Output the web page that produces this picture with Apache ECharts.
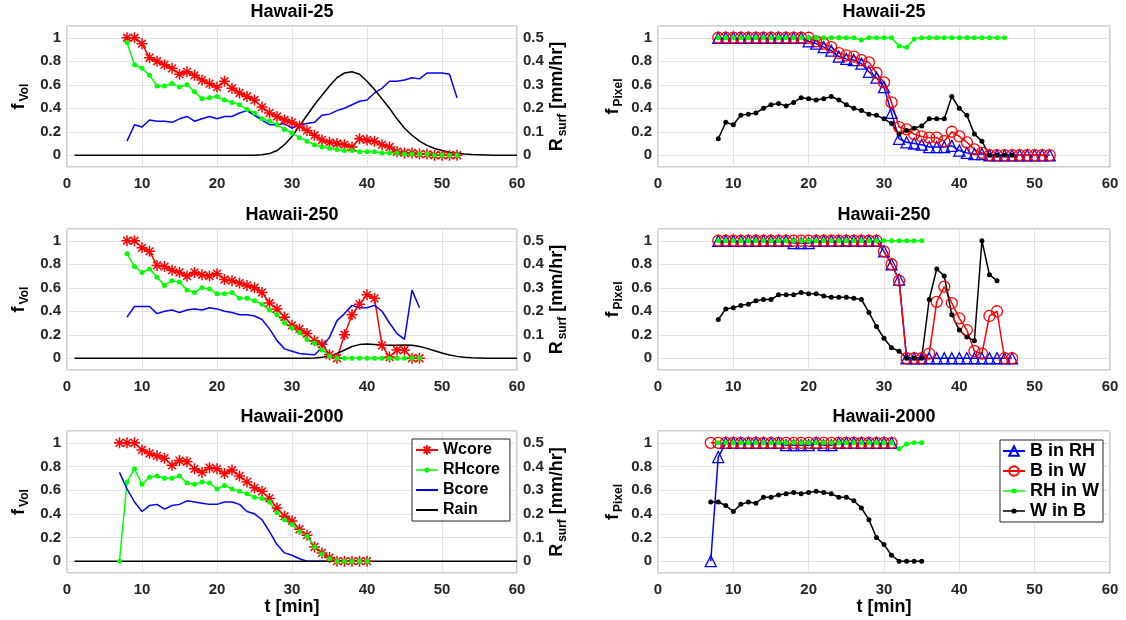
<!DOCTYPE html>
<html>
<head>
<meta charset="utf-8">
<script src="https://cdn.jsdelivr.net/npm/echarts@6/dist/echarts.min.js"></script>
<style>
  html, body { margin: 0; padding: 0; background: #ffffff; }
  #chart { width: 1126px; height: 620px; }
</style>
</head>
<body>
<div id="chart"></div>
<script>
// ---------- time axes (minutes) ----------
const rainT = [1,2,3,4,5,6,7,8,9,10,11,12,13,14,15,16,17,18,19,20,21,22,23,24,25,26,27,28,29,30,
               31,32,33,34,35,36,37,38,39,40,41,42,43,44,45,46,47,48,49,50,51,52,53,54,55,56,57,58,59,60];

// ---------- Hawaii-25 ----------
const h25T = [8,9,10,11,12,13,14,15,16,17,18,19,20,21,22,23,24,25,26,27,28,29,30,
              31,32,33,34,35,36,37,38,39,40,41,42,43,44,45,46,47,48,49,50,51,52];
const h25Wcore  = [1.00,1.00,0.95,0.83,0.80,0.77,0.74,0.69,0.71,0.68,0.64,0.61,0.58,0.63,0.57,0.53,0.50,0.47,0.41,0.36,0.33,0.30,0.28,
                   0.25,0.21,0.17,0.13,0.11,0.10,0.09,0.07,0.14,0.13,0.12,0.09,0.07,0.03,0.02,0.02,0.01,0.01,0.00,0.00,0.00,0.00];
const h25RHcore = [0.96,0.77,0.74,0.68,0.59,0.59,0.61,0.58,0.60,0.54,0.48,0.49,0.50,0.47,0.45,0.43,0.39,0.36,0.31,0.29,0.26,0.22,0.19,
                   0.15,0.12,0.09,0.07,0.06,0.05,0.04,0.04,0.03,0.03,0.03,0.02,0.02,0.02,0.01,0.01,0.01,0.01,0.00,0.00,0.00,0.00];
const h25Bcore  = [0.12,0.26,0.24,0.30,0.29,0.29,0.28,0.31,0.33,0.29,0.31,0.33,0.31,0.33,0.33,0.36,0.38,0.34,0.30,0.26,0.26,0.27,0.23,
                   0.26,0.27,0.28,0.34,0.35,0.38,0.40,0.43,0.46,0.47,0.53,0.57,0.63,0.63,0.64,0.66,0.65,0.70,0.70,0.70,0.69,0.49];
const h25Rain   = [0,0,0,0,0,0,0,0,0,0,0,0,0,0,0,0,0,0,0,0,0,0,0,0,0,
                   0.002,0.007,0.020,0.045,0.080,0.125,0.170,0.215,0.255,0.295,0.330,0.350,0.355,0.345,0.315,
                   0.280,0.240,0.200,0.155,0.115,0.085,0.060,0.042,0.029,0.020,0.013,0.008,0.005,0.003,0.002,
                   0.001,0,0,0,0];
const h25BinRH  = [1,1,1,1,1,1,1,1,1,1,1,1,0.97,0.95,0.92,0.89,0.84,0.82,0.81,0.78,0.71,0.66,0.58,
                   0.36,0.14,0.11,0.10,0.09,0.07,0.07,0.07,0.08,0.04,0.02,0.01,0.01,0,0,0,0,0,0,0,0,0];
const h25BinW   = [1,1,1,1,1,1,1,1,1,1,1,1,1,0.97,0.95,0.92,0.87,0.85,0.84,0.81,0.79,0.70,0.62,
                   0.45,0.24,0.22,0.18,0.16,0.15,0.15,0.12,0.20,0.16,0.11,0.05,0.02,0,0,0,0,0,0,0,0,0];
const h25RHinWT = [8,9,10,11,12,13,14,15,16,17,18,19,20,21,22,23,24,25,26,27,28,29,30,
                   31,32,33,34,35,36,37,38,39,40,41,42,43,44,45,46];
const h25RHinW  = [1,1,1,1,1,1,1,1,1,1,1,1,1,1,1,1,1,1,1,0.98,1,1,1,
                   1,0.93,0.92,0.99,1,1,1,1,1,1,1,1,1,1,1,1];
const h25WinBT  = [8,9,10,11,12,13,14,15,16,17,18,19,20,21,22,23,24,25,26,27,28,29,30,
                   31,32,33,34,35,36,37,38,39,40,41,42,43,44,45,46,47];
const h25WinB   = [0.14,0.28,0.26,0.34,0.35,0.36,0.40,0.43,0.44,0.42,0.45,0.49,0.48,0.47,0.48,0.50,0.47,0.43,0.40,0.38,0.35,0.34,0.31,
                   0.27,0.18,0.21,0.23,0.25,0.31,0.31,0.31,0.50,0.40,0.34,0.18,0.12,0,0,0,0];

// ---------- Hawaii-250 ----------
const h250T = [8,9,10,11,12,13,14,15,16,17,18,19,20,21,22,23,24,25,26,27,28,29,30,
               31,32,33,34,35,36,37,38,39,40,41,42,43,44,45,46,47];
const h250Wcore  = [1.00,1.00,0.94,0.91,0.79,0.78,0.75,0.73,0.70,0.73,0.71,0.70,0.72,0.67,0.66,0.64,0.62,0.60,0.56,0.47,0.42,0.35,0.28,
                    0.25,0.21,0.15,0.12,0.03,0.00,0.20,0.37,0.46,0.54,0.51,0.11,0.01,0.07,0.07,0.00,0.00];
const h250RHcore = [0.89,0.78,0.73,0.76,0.69,0.62,0.66,0.65,0.58,0.56,0.60,0.59,0.55,0.55,0.56,0.51,0.51,0.49,0.46,0.41,0.37,0.30,0.26,
                    0.22,0.16,0.13,0.07,0.02,0,0,0,0,0,0,0,0,0,0,0,0];
const h250Bcore  = [0.35,0.44,0.44,0.44,0.38,0.40,0.41,0.39,0.41,0.42,0.41,0.43,0.42,0.40,0.39,0.37,0.37,0.36,0.33,0.25,0.15,0.08,0.06,
                    0.04,0.035,0.03,0.09,0.18,0.32,0.38,0.45,0.43,0.43,0.45,0.40,0.30,0.21,0.16,0.58,0.43];
const h250Rain   = [0,0,0,0,0,0,0,0,0,0,0,0,0,0,0,0,0,0,0,0,0,0,0,0,0,0,0,0,0,0,0,0,
                    0.001,0.004,0.010,0.020,0.035,0.050,0.058,0.061,0.059,0.056,0.055,0.055,0.056,0.055,0.050,
                    0.042,0.032,0.022,0.014,0.008,0.004,0.002,0.001,0,0,0,0,0];
const h250BinRH  = [1,1,1,1,1,1,1,1,1,1,0.98,0.98,0.98,1,1,1,1,1,1,1,1,1,0.91,
                    0.80,0.67,0,0,0,0,0,0,0,0,0,0,0,0,0,0,0];
const h250BinW   = [1,1,1,1,1,1,1,1,1,1,1,1,1,1,1,1,1,1,1,1,1,1,0.91,
                    0.80,0.66,0,0,0,0.04,0.48,0.61,0.47,0.34,0.24,0.06,0.04,0.36,0.40,0,0];
const h250RHinWT = [8,9,10,11,12,13,14,15,16,17,18,19,20,21,22,23,24,25,26,27,28,29,30,31,32,33,34,35];
const h250RHinW  = [1,1,1,1,1,1,1,1,1,1,1,1,1,1,1,1,1,1,1,1,1,1,1,1,1,1,1,1];
const h250WinBT  = [8,9,10,11,12,13,14,15,16,17,18,19,20,21,22,23,24,25,26,27,28,29,30,
                    31,32,33,34,35,36,37,38,39,40,41,42,43,44,45];
const h250WinB   = [0.33,0.42,0.43,0.45,0.46,0.49,0.50,0.50,0.54,0.54,0.54,0.56,0.55,0.55,0.53,0.52,0.52,0.52,0.51,0.50,0.39,0.27,0.17,
                    0.09,0.06,0,0,0,0.50,0.76,0.70,0.37,0.24,0.18,0.15,1.00,0.71,0.66];

// ---------- Hawaii-2000 ----------
const h2000T = [7,8,9,10,11,12,13,14,15,16,17,18,19,20,21,22,23,24,25,26,27,28,29,30,
                31,32,33,34,35,36,37,38,39,40];
const h2000Wcore  = [1.00,1.00,1.00,0.94,0.91,0.89,0.87,0.81,0.85,0.84,0.78,0.75,0.79,0.78,0.74,0.77,0.72,0.67,0.62,0.59,0.53,0.45,0.38,0.34,
                     0.27,0.22,0.12,0.07,0.03,0,0,0,0,0];
const h2000RHcore = [0.00,0.67,0.78,0.65,0.71,0.72,0.70,0.70,0.72,0.66,0.65,0.67,0.66,0.61,0.64,0.61,0.59,0.57,0.54,0.53,0.50,0.41,0.35,0.31,
                     0.25,0.21,0.12,0.06,0.02,0,0,0,0,0];
const h2000Bcore  = [0.75,0.61,0.50,0.42,0.47,0.48,0.44,0.47,0.48,0.51,0.50,0.49,0.48,0.48,0.50,0.50,0.48,0.42,0.40,0.35,0.25,0.14,0.07,0.05,
                     0.02,0,0,0,0,0,0,0,0,0];
const h2000Rain   = [0,0,0,0,0,0,0,0,0,0,0,0,0,0,0,0,0,0,0,0,0,0,0,0,0,0,0,0,0,0,
                     0,0,0,0,0,0,0,0,0,0,0,0,0,0,0,0,0,0,0,0,0,0,0,0,0,0,0,0,0,0];
const h2000BT     = [7,8,9,10,11,12,13,14,15,16,17,18,19,20,21,22,23,24,25,26,27,28,29,30,31];
const h2000BinRH  = [0,0.88,1,1,1,1,1,1,1,1,0.98,0.98,0.98,0.98,1,0.98,0.98,1,1,1,1,1,1,1,1];
const h2000BinW   = [1,1,1,1,1,1,1,1,1,1,1,1,1,1,1,1,1,1,1,1,1,1,1,1,1];
const h2000RHinWT = [8,9,10,11,12,13,14,15,16,17,18,19,20,21,22,23,24,25,26,27,28,29,30,31,32,33,34,35];
const h2000RHinW  = [1,1,1,1,1,1,1,1,1,1,1,1,1,1,1,1,1,1,1,1,1,1,1,1,0.95,0.99,1,1];
const h2000WinBT  = [7,8,9,10,11,12,13,14,15,16,17,18,19,20,21,22,23,24,25,26,27,28,29,30,31,32,33,34,35];
const h2000WinB   = [0.50,0.50,0.47,0.42,0.48,0.50,0.49,0.54,0.54,0.56,0.57,0.58,0.57,0.58,0.59,0.58,0.57,0.54,0.54,0.51,0.45,0.35,0.20,0.14,
                     0.05,0,0,0,0];

// ---------- labels ----------
const titles = ['Hawaii-25', 'Hawaii-250', 'Hawaii-2000'];
const xTicks = [0, 10, 20, 30, 40, 50, 60];

// ---------- styling ----------
const FONT = '"Liberation Sans", Arial, Helvetica, sans-serif';
const TICK = '#262626';
const GRIDLINE = '#e3e3e3';
const BOX = '#a0a0a0';
const RED = '#ff0000', GREEN = '#00ff00', BLUE = '#0000ff', BLACK = '#000000';
const STAR = 'path://M10,0L10,20M0,10L20,10M2.93,2.93L17.07,17.07M2.93,17.07L17.07,2.93';
// legend icon: short line with a small dot in the middle
const LINE_DOT = 'path://M0,2H22V3.5H0Z M13.6,2.75A2.6,2.6,0,1,1,8.4,2.75A2.6,2.6,0,1,1,13.6,2.75Z';

const colLeft = [67, 658];
const colWidth = [450, 452];
const rowTop = [26, 229, 431];
const rowHeight = [141, 141, 142];

const pair = (ts, vs) => ts.map((t, i) => [t, vs[i]]);

const grid = [], xAxis = [], yAxis = [], series = [], graphic = [];

const tickLabel = { color: TICK, fontSize: 15, fontWeight: 'bold', fontFamily: FONT };
const nameRich = {
  f: { fontSize: 18, fontWeight: 'bold', fontFamily: FONT, color: BLACK, verticalAlign: 'top', lineHeight: 18 },
  s: { fontSize: 12, fontWeight: 'bold', fontFamily: FONT, color: BLACK, verticalAlign: 'top', lineHeight: 13, padding: [9, 0, 0, 2] }
};

for (let c = 0; c < 2; c++) {
  for (let r = 0; r < 3; r++) {
    const gi = c * 3 + r;
    grid.push({
      left: colLeft[c], top: rowTop[r], width: colWidth[c], height: rowHeight[r],
      show: true, borderColor: BOX, borderWidth: 1, backgroundColor: '#ffffff'
    });
    xAxis.push({
      type: 'value', gridIndex: gi, min: xTicks[0], max: xTicks[xTicks.length - 1], interval: 10,
      axisLine: { show: false }, axisTick: { show: false },
      splitLine: { show: true, lineStyle: { color: GRIDLINE, width: 1 } },
      axisLabel: Object.assign({ margin: 9 }, tickLabel),
      name: r === 2 ? 't [min]' : '', nameLocation: 'middle', nameGap: 24,
      nameTextStyle: { color: BLACK, fontSize: 18, fontWeight: 'bold', fontFamily: FONT, verticalAlign: 'top' }
    });
    yAxis.push({
      type: 'value', gridIndex: gi, min: -0.1, max: 1.1, splitNumber: 6,
      axisLine: { show: false }, axisTick: { show: false },
      splitLine: { show: true, lineStyle: { color: GRIDLINE, width: 1 } },
      axisLabel: Object.assign({ margin: 6, showMinLabel: false, showMaxLabel: false }, tickLabel),
      name: c === 0 ? '{f|f}{s|Vol}' : '{f|f}{s|Pixel}',
      nameLocation: 'middle', nameRotate: 90, nameGap: c === 0 ? 39 : 36,
      nameTextStyle: { color: BLACK, fontFamily: FONT, rich: nameRich }
    });
    graphic.push({
      type: 'text', x: colLeft[c] + colWidth[c] / 2, y: rowTop[r] - 14,
      style: {
        text: titles[r], fill: BLACK, font: 'bold 18px ' + FONT,
        align: 'center', verticalAlign: 'middle', textAlign: 'center', textVerticalAlign: 'middle'
      }
    });
  }
}

// right-hand rain axes for the left column
for (let r = 0; r < 3; r++) {
  yAxis.push({
    type: 'value', gridIndex: r, position: 'right', min: -0.05, max: 0.55, splitNumber: 6,
    axisLine: { show: false }, axisTick: { show: false }, splitLine: { show: false },
    axisLabel: Object.assign({ margin: 6, showMinLabel: false, showMaxLabel: false }, tickLabel),
    name: '{f|R}{s|surf}{f| [mm/hr]}', nameLocation: 'middle', nameRotate: 90, nameGap: 31,
    nameTextStyle: { color: BLACK, fontFamily: FONT, rich: nameRich }
  });
}

// series builders
function wcore(data, gi) {
  return { name: 'Wcore', type: 'line', xAxisIndex: gi, yAxisIndex: gi, data,
    symbol: STAR, symbolSize: 11, color: RED,
    lineStyle: { color: RED, width: 1.5 },
    itemStyle: { color: RED, borderColor: RED, borderWidth: 1.5 } };
}
function rhcore(data, gi) {
  return { name: 'RHcore', type: 'line', xAxisIndex: gi, yAxisIndex: gi, data,
    symbol: 'circle', symbolSize: 5, color: GREEN,
    lineStyle: { color: GREEN, width: 1.5 }, itemStyle: { color: GREEN } };
}
function bcore(data, gi) {
  return { name: 'Bcore', type: 'line', xAxisIndex: gi, yAxisIndex: gi, data,
    symbol: 'none', color: BLUE, lineStyle: { color: BLUE, width: 1.5 } };
}
function rain(data, gi) {
  return { name: 'Rain', type: 'line', xAxisIndex: gi, yAxisIndex: 6 + gi, data,
    symbol: 'none', color: BLACK, lineStyle: { color: BLACK, width: 1.5 } };
}
function bInRH(data, gi) {
  return { name: 'B in RH', type: 'line', xAxisIndex: gi, yAxisIndex: gi, data,
    symbol: 'triangle', symbolSize: 11, color: BLUE,
    lineStyle: { color: BLUE, width: 1.5 },
    itemStyle: { color: 'rgba(0,0,0,0)', borderColor: BLUE, borderWidth: 1.3 } };
}
function bInW(data, gi) {
  return { name: 'B in W', type: 'line', xAxisIndex: gi, yAxisIndex: gi, data,
    symbol: 'circle', symbolSize: 11, color: RED,
    lineStyle: { color: RED, width: 1.5 },
    itemStyle: { color: 'rgba(0,0,0,0)', borderColor: RED, borderWidth: 1.3 } };
}
function rhInW(data, gi) {
  return { name: 'RH in W', type: 'line', xAxisIndex: gi, yAxisIndex: gi, data,
    symbol: 'circle', symbolSize: 5, color: GREEN,
    lineStyle: { color: GREEN, width: 1.5 }, itemStyle: { color: GREEN } };
}
function wInB(data, gi) {
  return { name: 'W in B', type: 'line', xAxisIndex: gi, yAxisIndex: gi, data,
    symbol: 'circle', symbolSize: 5, color: BLACK,
    lineStyle: { color: BLACK, width: 1.5 }, itemStyle: { color: BLACK } };
}

// left column: core volume fractions + surface rain
series.push(
  wcore(pair(h25T, h25Wcore), 0), rhcore(pair(h25T, h25RHcore), 0), bcore(pair(h25T, h25Bcore), 0), rain(pair(rainT, h25Rain), 0),
  wcore(pair(h250T, h250Wcore), 1), rhcore(pair(h250T, h250RHcore), 1), bcore(pair(h250T, h250Bcore), 1), rain(pair(rainT, h250Rain), 1),
  wcore(pair(h2000T, h2000Wcore), 2), rhcore(pair(h2000T, h2000RHcore), 2), bcore(pair(h2000T, h2000Bcore), 2), rain(pair(rainT, h2000Rain), 2)
);
// right column: pixel overlap fractions
series.push(
  bInRH(pair(h25T, h25BinRH), 3), bInW(pair(h25T, h25BinW), 3), rhInW(pair(h25RHinWT, h25RHinW), 3), wInB(pair(h25WinBT, h25WinB), 3),
  bInRH(pair(h250T, h250BinRH), 4), bInW(pair(h250T, h250BinW), 4), rhInW(pair(h250RHinWT, h250RHinW), 4), wInB(pair(h250WinBT, h250WinB), 4),
  bInRH(pair(h2000BT, h2000BinRH), 5), bInW(pair(h2000BT, h2000BinW), 5), rhInW(pair(h2000RHinWT, h2000RHinW), 5), wInB(pair(h2000WinBT, h2000WinB), 5)
);

const legendBase = {
  orient: 'vertical', selectedMode: false, backgroundColor: '#ffffff',
  borderColor: '#262626', borderWidth: 1, borderRadius: 0, itemWidth: 22, itemHeight: 12
};
const hidden = { color: 'rgba(0,0,0,0)', borderColor: 'rgba(0,0,0,0)' };

const chart = echarts.init(document.getElementById('chart'), null, { renderer: 'canvas' });
chart.setOption({
  animation: false,
  backgroundColor: '#ffffff',
  grid, xAxis, yAxis, series, graphic,
  legend: [
    Object.assign({}, legendBase, {
      left: 412, top: 439, itemGap: 4, padding: [3, 10, 3, 3],
      textStyle: { color: BLACK, fontSize: 16, fontWeight: 'bold', fontFamily: FONT },
      data: [
        { name: 'Wcore' },
        { name: 'RHcore', icon: LINE_DOT },
        { name: 'Bcore', itemStyle: hidden },
        { name: 'Rain', itemStyle: hidden }
      ]
    }),
    Object.assign({}, legendBase, {
      left: 1000, top: 440, itemGap: 2, padding: [2, 4, 2, 2],
      textStyle: { color: BLACK, fontSize: 18, fontWeight: 'bold', fontFamily: FONT },
      data: [
        { name: 'B in RH' }, { name: 'B in W' },
        { name: 'RH in W', icon: LINE_DOT },
        { name: 'W in B', icon: LINE_DOT }
      ]
    })
  ]
});
</script>
</body>
</html>
